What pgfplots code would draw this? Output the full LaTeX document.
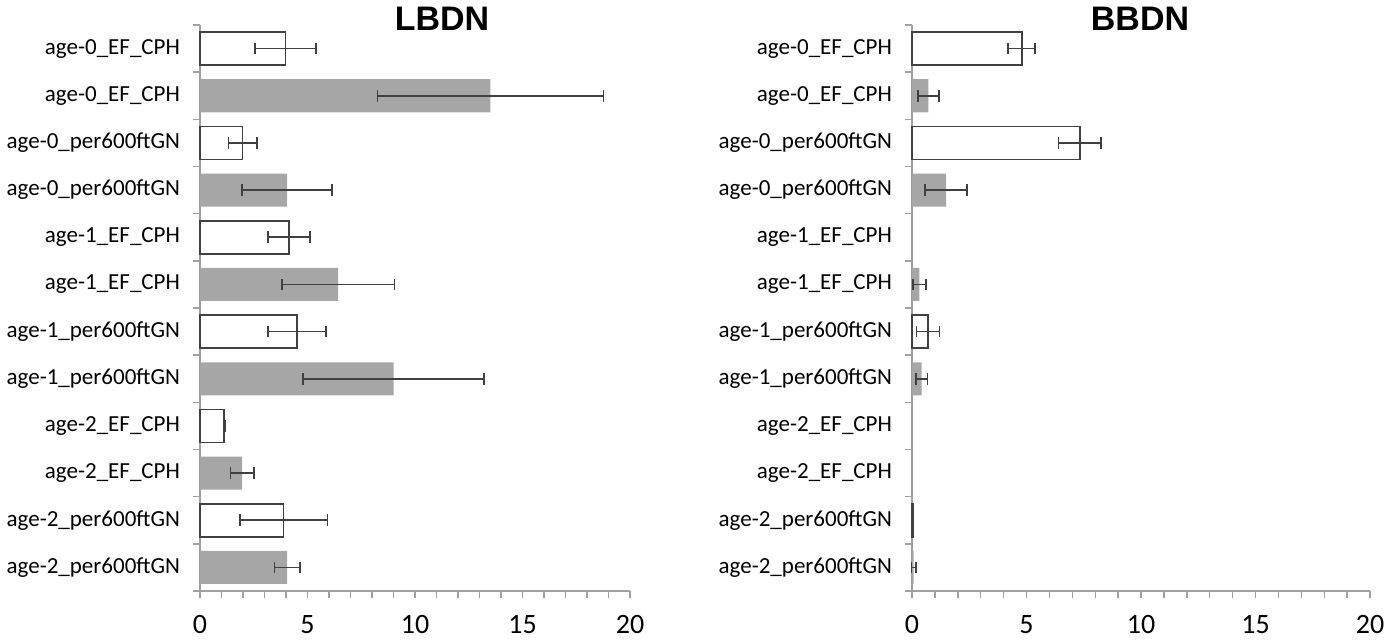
\documentclass[border=0pt]{standalone}
\usepackage{fontspec}
\setmainfont{Carlito}
\newfontfamily\titlefont{Liberation Sans}
\usepackage{pgfplots}
\pgfplotsset{compat=1.18}
\definecolor{axisgray}{HTML}{A0A0A0}
\definecolor{barline}{HTML}{404040}
\definecolor{barfill}{HTML}{A6A6A6}

% categories are drawn bottom-up: y=12 is the top row
\pgfplotsset{panel/.style={
  xbar, bar shift=0pt, bar width=0.7,
  scale only axis, height=283pt,
  ymin=0.5, ymax=12.5, xmin=0, xmax=20,
  axis x line*=bottom, axis y line*=left,
  axis line style={axisgray, line width=0.7pt, -},
  ytick={1,...,12},
  yticklabels={age-2\_per600ftGN,age-2\_per600ftGN,age-2\_EF\_CPH,age-2\_EF\_CPH,
    age-1\_per600ftGN,age-1\_per600ftGN,age-1\_EF\_CPH,age-1\_EF\_CPH,
    age-0\_per600ftGN,age-0\_per600ftGN,age-0\_EF\_CPH,age-0\_EF\_CPH},
  minor ytick={0.5,1.5,...,12.5},
  xtick={0,5,...,20}, minor xtick={1,...,19},
  tick align=outside,
  tick style={axisgray, line width=0.7pt},
  major y tick style={draw=none},
  major tick length=3.5pt, minor tick length=3.5pt,
  yticklabel style={font=\fontsize{11.5}{13}\selectfont, xshift=-3pt},
  xticklabel style={font=\fontsize{14}{16}\selectfont, yshift=-5pt},
  /pgf/number format/assume math mode=true,
  clip=false,
}}
\pgfplotsset{errs/.style={
    error bars/x dir=both, error bars/x explicit,
    error bars/error bar style={barline, line width=0.8pt},
    error bars/error mark options={barline, line width=0.8pt, mark size=2.9pt, rotate=90}},
  white bar/.style={errs, draw=barline, fill=white, line width=0.8pt},
  gray bar/.style={errs, draw=none, fill=barfill}}

\begin{document}
\begin{tikzpicture}
\useasboundingbox (0,0) rectangle (700pt,319.5pt);

\begin{axis}[panel, width=215pt, at={(100pt,24pt)}, anchor=south west]
\addplot[white bar] coordinates {
  (3.97,12) +- (1.42,0)
  (1.98,10) +- (0.66,0)
  (4.13,8)  +- (0.98,0)
  (4.51,6)  +- (1.35,0)
  (1.13,4)  +- (0.03,0)
  (3.89,2)  +- (2.04,0)
};
\addplot[gray bar] coordinates {
  (13.51,11) +- (5.26,0)
  (4.05,9)   +- (2.09,0)
  (6.43,7)   +- (2.61,0)
  (9.00,5)   +- (4.21,0)
  (1.96,3)   +- (0.55,0)
  (4.05,1)   +- (0.59,0)
};
\end{axis}

\begin{axis}[panel, width=229pt, at={(456pt,24pt)}, anchor=south west]
\addplot[white bar] coordinates {
  (4.79,12) +- (0.59,0)
  (7.33,10) +- (0.93,0)
  (0.70,6)  +- (0.50,0)
  (0.04,2)  +- (0.02,0)
};
\addplot[gray bar] coordinates {
  (0.71,11) +- (0.46,0)
  (1.49,9)  +- (0.91,0)
  (0.32,7)  +- (0.28,0)
  (0.42,5)  +- (0.25,0)
  (0.07,1)  +- (0.10,0)
};
\end{axis}

\node[font=\titlefont\bfseries\fontsize{17}{20}\selectfont, anchor=base] at (221pt,304.5pt) {LBDN};
\node[font=\titlefont\bfseries\fontsize{17}{20}\selectfont, anchor=base] at (570pt,304.5pt) {BBDN};
\end{tikzpicture}
\end{document}
